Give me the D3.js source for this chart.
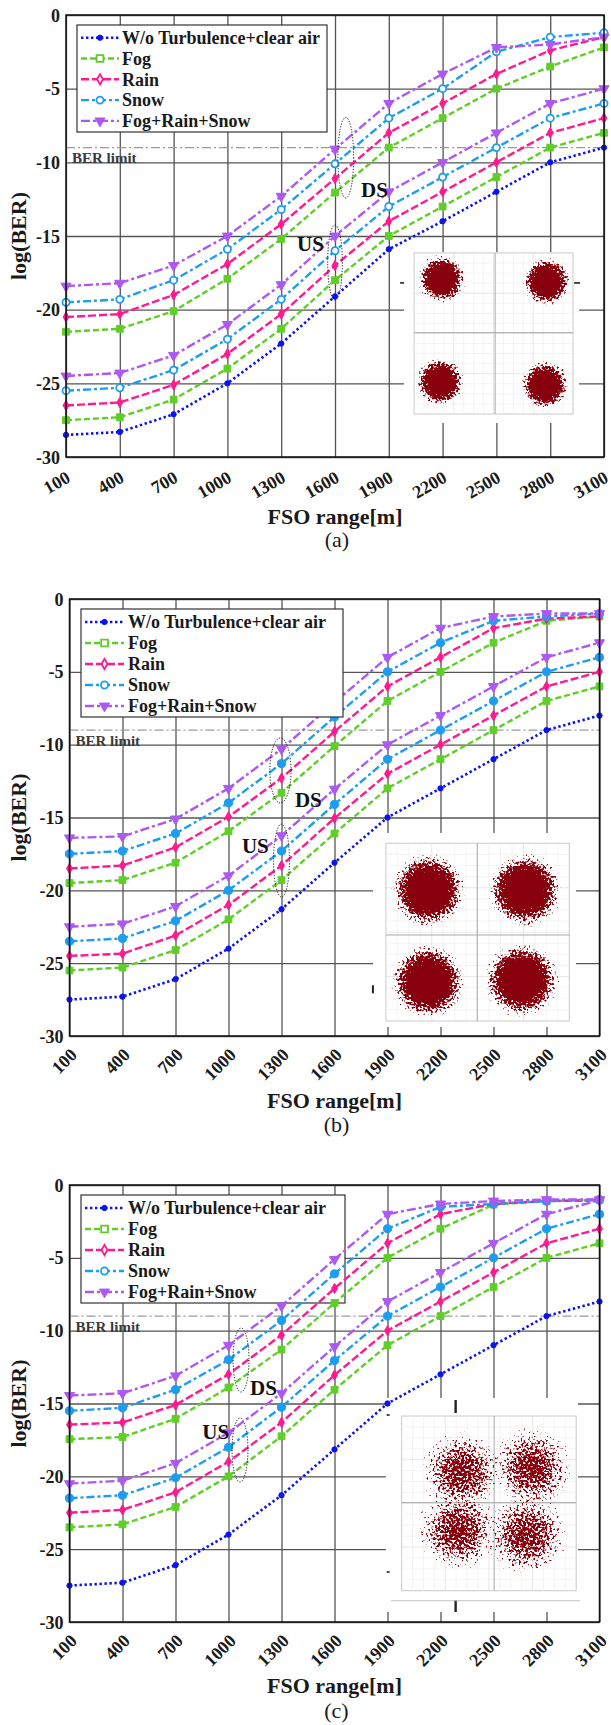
<!DOCTYPE html>
<html>
<head>
<meta charset="utf-8">
<script src="https://cdn.jsdelivr.net/npm/d3@7"></script>
<style>
  body { margin: 0; background: #fff; }
  svg { display: block; }
  text { font-family: "Liberation Serif", "Times New Roman", serif; }
</style>
</head>
<body>
<div id="cont"></div>
<script>
// x categories and y ticks (same for all three panels)
var ranges = [100, 400, 700, 1000, 1300, 1600, 1900, 2200, 2500, 2800, 3100];
var yTicks = [0, -5, -10, -15, -20, -25, -30];
var seriesNames = ["W/o Turbulence+clear air", "Fog", "Rain", "Snow", "Fog+Rain+Snow"];
var berLimit = -9;

// panel (a)  US = lower bundle, DS = upper bundle
var aClear  = [-28.5, -28.3, -27.1, -25.0, -22.3, -19.1, -15.9, -14.0, -12.0, -10.0, -9.0];
var aFogUS  = [-27.5, -27.3, -26.1, -24.0, -21.3, -18.0, -15.0, -13.0, -11.0, -9.0, -8.0];
var aRainUS = [-26.5, -26.3, -25.1, -23.0, -20.3, -17.0, -14.0, -12.0, -10.0, -8.0, -7.0];
var aSnowUS = [-25.5, -25.3, -24.1, -22.0, -19.3, -16.0, -13.0, -11.0, -9.0, -7.0, -6.0];
var aMixUS  = [-24.5, -24.3, -23.1, -21.0, -18.3, -15.0, -12.0, -10.0, -8.0, -6.0, -5.0];
var aFogDS  = [-21.5, -21.3, -20.1, -17.9, -15.2, -12.05, -9.0, -7.0, -5.0, -3.5, -2.2];
var aRainDS = [-20.5, -20.3, -19.0, -16.9, -14.2, -11.1, -8.0, -6.0, -4.0, -2.4, -1.5];
var aSnowDS = [-19.5, -19.3, -18.0, -15.9, -13.2, -10.1, -7.0, -5.0, -2.5, -1.5, -1.2];
var aMixDS  = [-18.4, -18.2, -17.0, -15.0, -12.3, -9.1, -6.0, -4.0, -2.2, -2.0, -1.5];

// panel (b)
var bClear  = [-27.5, -27.3, -26.1, -24.0, -21.3, -18.1, -15.0, -13.0, -11.0, -9.0, -8.0];
var bFogUS  = [-25.5, -25.3, -24.1, -22.0, -19.3, -16.1, -13.0, -11.0, -9.0, -7.0, -6.0];
var bRainUS = [-24.5, -24.35, -23.1, -21.0, -18.3, -15.05, -12.0, -10.0, -8.0, -6.0, -5.0];
var bSnowUS = [-23.5, -23.3, -22.1, -20.0, -17.3, -14.1, -11.0, -9.0, -7.0, -5.0, -4.0];
var bMixUS  = [-22.5, -22.3, -21.1, -19.0, -16.25, -13.05, -10.0, -8.0, -6.0, -4.0, -3.0];
var bFogDS  = [-19.5, -19.3, -18.1, -15.95, -13.3, -10.1, -7.0, -5.0, -3.0, -1.5, -1.2];
var bRainDS = [-18.5, -18.3, -17.05, -14.95, -12.3, -9.1, -6.0, -4.0, -2.0, -1.35, -1.2];
var bSnowDS = [-17.5, -17.3, -16.1, -14.0, -11.3, -8.1, -5.0, -3.0, -1.5, -1.2, -1.0];
var bMixDS  = [-16.4, -16.3, -15.1, -13.0, -10.3, -7.1, -4.0, -2.0, -1.2, -1.0, -1.0];

// panel (c)
var cClear  = [-27.5, -27.3, -26.1, -24.0, -21.3, -18.15, -15.0, -13.0, -11.0, -9.0, -8.0];
var cFogUS  = [-23.5, -23.3, -22.1, -20.0, -17.25, -14.05, -11.0, -9.0, -7.0, -5.0, -4.0];
var cRainUS = [-22.5, -22.3, -21.1, -19.0, -16.3, -13.05, -10.0, -8.0, -6.0, -4.0, -3.0];
var cSnowUS = [-21.5, -21.3, -20.1, -18.0, -15.25, -12.05, -9.0, -7.0, -5.0, -3.0, -2.0];
var cMixUS  = [-20.5, -20.3, -19.1, -17.0, -14.3, -11.1, -8.0, -6.0, -4.0, -2.0, -1.05];
var cFogDS  = [-17.45, -17.3, -16.05, -13.9, -11.3, -8.1, -5.0, -3.0, -1.35, -1.1, -1.05];
var cRainDS = [-16.45, -16.3, -15.1, -13.0, -10.3, -7.1, -4.0, -2.0, -1.3, -1.1, -1.05];
var cSnowDS = [-15.5, -15.3, -14.05, -12.0, -9.3, -6.1, -3.0, -1.5, -1.3, -1.1, -1.0];
var cMixDS  = [-14.45, -14.3, -13.1, -11.0, -8.3, -5.1, -2.0, -1.3, -1.1, -1.0, -1.0];

// line styles, index = series
var styles = [
  { color: "#0b12f2", dash: "2.4,2.6", width: 2.6, marker: "dot" },
  { color: "#5fcf27", dash: "6,3",     width: 2.4, marker: "square" },
  { color: "#ff1a8f", dash: "8,3",     width: 2.4, marker: "diamond" },
  { color: "#1d9df2", dash: "8,3,3,3", width: 2.4, marker: "circle" },
  { color: "#ad58f2", dash: "9,3,3,3", width: 2.4, marker: "triangle" }
];

var panels = [
  {
    caption: "(a)", top: 15, bottom: 457, left: 66, right: 604,
    rot: -30, labDx: 5, labDy: 24, titleY: 524, capY: 547,
    us: [aClear, aFogUS, aRainUS, aSnowUS, aMixUS],
    ds: [aFogDS, aRainDS, aSnowDS, aMixDS],
    hollowCircle: true, legendOnTop: true,
    legend: { x: 77, y: 25, w: 250, h: 107, row: 20.8, first: 12.7, lx0: 81, lx1: 119, tx: 122 },
    ellipses: [ { x: 1660, y0: -6.95, y1: -12.42, hw: 44 }, { x: 1600, y0: -14.25, y1: -19.34, hw: 41 } ],
    notes: [ { t: "DS", x: 1745, y: -12.35 }, { t: "US", x: 1388, y: -16.0 } ],
    inset: { box: [1985, 2961, -16.09, -27.69], frame: [2041, 2927, -16.15, -27.08],
             cross: [0.51, 0.495], r: 0.155, sparse: false,
             clusters: [[0.174, 0.161], [0.835, 0.178], [0.164, 0.80], [0.824, 0.82]],
             marks: [[-14, 30, -10, 30, 1.6], [160, 30, 166, 30, 1.6]] }
  },
  {
    caption: "(b)", top: 599, bottom: 1036, left: 69.5, right: 599.5,
    rot: -45, labDx: 8, labDy: 20, titleY: 1108, capY: 1132,
    us: [bClear, bFogUS, bRainUS, bSnowUS, bMixUS],
    ds: [bFogDS, bRainDS, bSnowDS, bMixDS],
    hollowCircle: false, legendOnTop: true,
    legend: { x: 81, y: 609, w: 262, h: 108, row: 21, first: 13, lx0: 85, lx1: 124, tx: 128 },
    ellipses: [ { x: 1294, y0: -9.54, y1: -14.0, hw: 60 }, { x: 1300, y0: -15.45, y1: -20.46, hw: 45 } ],
    notes: [ { t: "DS", x: 1376, y: -14.26 }, { t: "US", x: 1076, y: -17.46 } ],
    inset: { box: [1818, 2967, -16.06, -29.38], frame: [1891, 2929, -16.77, -28.97],
             cross: [0.498, 0.516], r: 0.205, sparse: false,
             clusters: [[0.231, 0.263], [0.758, 0.263], [0.230, 0.779], [0.740, 0.769]],
             marks: [[-13, 142, -13, 150, 2]] }
  },
  {
    caption: "(c)", top: 1185, bottom: 1622, left: 69.5, right: 599.5,
    rot: -45, labDx: 8, labDy: 20, titleY: 1693, capY: 1718,
    us: [cClear, cFogUS, cRainUS, cSnowUS, cMixUS],
    ds: [cFogDS, cRainDS, cSnowDS, cMixDS],
    hollowCircle: false, legendOnTop: false,
    legend: { x: 81, y: 1195, w: 264, h: 108, row: 21, first: 13, lx0: 85, lx1: 124, tx: 128 },
    ellipses: [ { x: 1071, y0: -9.82, y1: -14.21, hw: 45 }, { x: 1065, y0: -16.0, y1: -20.39, hw: 45 } ],
    notes: [ { t: "DS", x: 1122, y: -14.42 }, { t: "US", x: 852, y: -17.46 } ],
    inset: { box: [1891, 2978, -14.62, -29.31], frame: [1980, 2968, -15.86, -27.85],
             cross: [0.53, 0.496], r: 0.235, sparse: true,
             clusters: [[0.344, 0.319], [0.746, 0.298], [0.323, 0.653], [0.717, 0.681]],
             marks: [[-15, -1, -12, -1, 1.6], [-15, 156, -12, 156, 1.6], [54, -16, 54, -3, 2.4], [54, 184, 54, 196, 2.4]],
             baseLine: [-10.7, 184.7, 178.3] }
  }
];

var svg = d3.select("#cont")
  .append("svg")
  .attr("width", 611)
  .attr("height", 1725);

svg.append("rect").attr("width", 611).attr("height", 1725).attr("fill", "#fff");

// gradients + speckle filter for the constellation blobs
var defs = svg.append("defs");
var g1 = defs.append("radialGradient").attr("id", "blob");
g1.append("stop").attr("offset", "0%").attr("stop-opacity", 1).attr("stop-color", "#000");
g1.append("stop").attr("offset", "40%").attr("stop-opacity", 0.92).attr("stop-color", "#000");
g1.append("stop").attr("offset", "100%").attr("stop-opacity", 0.2).attr("stop-color", "#000");
var g2 = defs.append("radialGradient").attr("id", "blobSparse");
g2.append("stop").attr("offset", "0%").attr("stop-opacity", 0.66).attr("stop-color", "#000");
g2.append("stop").attr("offset", "45%").attr("stop-opacity", 0.52).attr("stop-color", "#000");
g2.append("stop").attr("offset", "100%").attr("stop-opacity", 0.22).attr("stop-color", "#000");

// alpha + noise, thresholded -> speckled cluster whose density falls off outward
var f = defs.append("filter").attr("id", "speck")
  .attr("x", "-5%").attr("y", "-5%").attr("width", "110%").attr("height", "110%");
f.append("feTurbulence").attr("type", "fractalNoise").attr("baseFrequency", 0.42)
  .attr("numOctaves", 2).attr("seed", 7).attr("result", "n");
f.append("feColorMatrix").attr("in", "n").attr("type", "matrix")
  .attr("values", "0 0 0 0 0  0 0 0 0 0  0 0 0 0 0  1 0 0 0 0").attr("result", "na");
f.append("feComposite").attr("in", "SourceAlpha").attr("in2", "na").attr("operator", "arithmetic")
  .attr("k1", 0).attr("k2", 1).attr("k3", 1).attr("k4", -0.92).attr("result", "sum");
var ct = f.append("feComponentTransfer").attr("in", "sum").attr("result", "thr");
ct.append("feFuncA").attr("type", "linear").attr("slope", 9).attr("intercept", -0.2);
f.append("feFlood").attr("flood-color", "#880008").attr("result", "col");
f.append("feComposite").attr("in", "col").attr("in2", "thr").attr("operator", "in");

function markerPath(type, hollowCircle) {
  if (type == "dot") return d3.symbol(d3.symbolCircle, 22)();
  if (type == "square") return d3.symbol(d3.symbolSquare, 46)();
  if (type == "diamond") return d3.symbol(d3.symbolDiamond, 30)();
  if (type == "circle") return d3.symbol(d3.symbolCircle, hollowCircle ? 40 : 52)();
  return d3.symbol(d3.symbolTriangle, 44)();
}

function drawMarkers(g, pts, st, hollow, hollowCircle) {
  g.selectAll(null)
    .data(pts)
    .enter()
    .append("path")
    .attr("d", markerPath(st.marker, hollowCircle))
    .attr("transform", function(d) {
      return "translate(" + d[0] + "," + d[1] + ")" + (st.marker == "triangle" ? " rotate(180)" : "");
    })
    .attr("fill", hollow ? "#fff" : st.color)
    .attr("stroke", st.color)
    .attr("stroke-width", hollow ? 1.8 : 1);
}

panels.forEach(function(p) {
  var x = d3.scaleLinear().domain([100, 3100]).range([p.left, p.right]);
  var y = d3.scaleLinear().domain([0, -30]).range([p.top, p.bottom]);
  var W = p.right - p.left, H = p.bottom - p.top;
  var g = svg.append("g");

  // grid + tick labels via axes
  var gx = g.append("g")
    .attr("transform", "translate(0," + p.bottom + ")")
    .call(d3.axisBottom(x).tickValues(ranges).tickSize(-H).tickFormat(function(d) { return String(d); }));
  gx.select(".domain").remove();
  gx.selectAll(".tick line").attr("stroke", "#555").attr("stroke-width", 1.3);
  gx.selectAll(".tick text")
    .attr("x", 0).attr("y", 0).attr("dy", 0)
    .attr("text-anchor", "end")
    .attr("transform", "translate(" + p.labDx + "," + p.labDy + ") rotate(" + p.rot + ")")
    .attr("fill", "#1a1a1a")
    .style("font-family", "'Liberation Serif', serif")
    .style("font-size", "18px").style("font-weight", "bold");

  var gy = g.append("g")
    .attr("transform", "translate(" + p.left + ",0)")
    .call(d3.axisLeft(y).tickValues(yTicks).tickSize(-W).tickPadding(6).tickFormat(function(d) { return String(d); }));
  gy.select(".domain").remove();
  gy.selectAll(".tick line").attr("stroke", "#555").attr("stroke-width", 1.3);
  gy.selectAll(".tick text")
    .attr("dy", "0.34em")
    .attr("fill", "#1a1a1a")
    .style("font-family", "'Liberation Serif', serif")
    .style("font-size", "18px").style("font-weight", "bold");

  // constellation inset (pasted picture)
  var ins = p.inset;
  g.append("rect")
    .attr("x", x(ins.box[0])).attr("y", y(ins.box[2]))
    .attr("width", x(ins.box[1]) - x(ins.box[0])).attr("height", y(ins.box[3]) - y(ins.box[2]))
    .attr("fill", "#fff");
  var fx0 = x(ins.frame[0]), fx1 = x(ins.frame[1]), fy0 = y(ins.frame[2]), fy1 = y(ins.frame[3]);
  var fw = fx1 - fx0, fh = fy1 - fy0;
  var ig = g.append("g");
  ig.append("rect").attr("x", fx0).attr("y", fy0).attr("width", fw).attr("height", fh)
    .attr("fill", "#fff").attr("stroke", "#c9c9c9").attr("stroke-width", 1);
  var steps = d3.range(1, 16);
  ig.selectAll(null).data(steps).enter().append("line")
    .attr("x1", function(d) { return fx0 + fw * d / 16; }).attr("x2", function(d) { return fx0 + fw * d / 16; })
    .attr("y1", fy0).attr("y2", fy1)
    .attr("stroke", function(d) { return d % 4 == 0 ? "#dcdcdc" : "#efefef"; }).attr("stroke-width", 0.7);
  ig.selectAll(null).data(steps).enter().append("line")
    .attr("y1", function(d) { return fy0 + fh * d / 16; }).attr("y2", function(d) { return fy0 + fh * d / 16; })
    .attr("x1", fx0).attr("x2", fx1)
    .attr("stroke", function(d) { return d % 4 == 0 ? "#dcdcdc" : "#efefef"; }).attr("stroke-width", 0.7);
  ig.append("line").attr("x1", fx0 + fw * ins.cross[0]).attr("x2", fx0 + fw * ins.cross[0])
    .attr("y1", fy0).attr("y2", fy1).attr("stroke", "#a8a8a8").attr("stroke-width", 1);
  ig.append("line").attr("y1", fy0 + fh * ins.cross[1]).attr("y2", fy0 + fh * ins.cross[1])
    .attr("x1", fx0).attr("x2", fx1).attr("stroke", "#a8a8a8").attr("stroke-width", 1);
  ig.selectAll(null).data(ins.clusters).enter().append("circle")
    .attr("cx", function(d) { return fx0 + fw * d[0]; })
    .attr("cy", function(d) { return fy0 + fh * d[1]; })
    .attr("r", fw * ins.r)
    .attr("fill", ins.sparse ? "url(#blobSparse)" : "url(#blob)")
    .attr("filter", "url(#speck)");
  ins.marks.forEach(function(m) {
    ig.append("line")
      .attr("x1", fx0 + m[0]).attr("y1", fy0 + m[1]).attr("x2", fx0 + m[2]).attr("y2", fy0 + m[3])
      .attr("stroke", "#222").attr("stroke-width", m[4]);
  });
  if (ins.baseLine) {
    ig.append("line")
      .attr("x1", fx0 + ins.baseLine[0]).attr("x2", fx0 + ins.baseLine[2])
      .attr("y1", fy0 + ins.baseLine[1]).attr("y2", fy0 + ins.baseLine[1])
      .attr("stroke", "#c4c4c4").attr("stroke-width", 1);
  }

  // BER limit
  g.append("line")
    .attr("x1", p.left).attr("x2", p.right)
    .attr("y1", y(berLimit)).attr("y2", y(berLimit))
    .attr("stroke", "#9a9a9a").attr("stroke-width", 1.2)
    .attr("stroke-dasharray", "9,3,2,3");
  g.append("text")
    .attr("x", p.left + 6).attr("y", y(-10) + 1)
    .attr("fill", "#3a3a3a")
    .style("font-size", "15px").style("font-weight", "bold")
    .text("BER limit");

  var line = d3.line()
    .x(function(d, i) { return x(ranges[i]); })
    .y(function(d) { return y(d); });

  var lg = g.append("g");
  var legendG = g.append("g");
  if (!p.legendOnTop) lg.raise();

  // upper bundle (Fog, Rain, Snow, Fog+Rain+Snow), then lower bundle incl. clear air
  var bundles = [];
  p.ds.forEach(function(vals, k) { bundles.push({ vals: vals, st: styles[k + 1] }); });
  p.us.forEach(function(vals, k) { bundles.push({ vals: vals, st: styles[k] }); });

  bundles.forEach(function(b) {
    lg.append("path")
      .attr("d", line(b.vals))
      .attr("fill", "none")
      .attr("stroke", b.st.color)
      .attr("stroke-width", b.st.width)
      .attr("stroke-dasharray", b.st.dash);
    var pts = b.vals.map(function(v, i) { return [x(ranges[i]), y(v)]; });
    var hollow = p.hollowCircle && b.st.marker == "circle";
    drawMarkers(lg, pts, b.st, hollow, p.hollowCircle);
  });

  // dotted ellipses + DS / US labels
  p.ellipses.forEach(function(e) {
    g.append("ellipse")
      .attr("cx", x(e.x)).attr("cy", (y(e.y0) + y(e.y1)) / 2)
      .attr("rx", x(e.x + e.hw) - x(e.x)).attr("ry", (y(e.y1) - y(e.y0)) / 2)
      .attr("fill", "none").attr("stroke", "#111").attr("stroke-width", 1)
      .attr("stroke-dasharray", "1.2,1.6");
  });
  p.notes.forEach(function(n) {
    g.append("text")
      .attr("x", x(n.x)).attr("y", y(n.y))
      .attr("fill", "#111")
      .style("font-size", "21px").style("font-weight", "bold")
      .text(n.t);
  });

  // legend
  var L = p.legend;
  legendG.append("rect")
    .attr("x", L.x).attr("y", L.y).attr("width", L.w).attr("height", L.h)
    .attr("fill", "#fff").attr("stroke", "#333").attr("stroke-width", 1.2);
  seriesNames.forEach(function(name, i) {
    var st = styles[i];
    var ry = L.y + L.first + i * L.row;
    legendG.append("line")
      .attr("x1", L.lx0).attr("x2", L.lx1).attr("y1", ry).attr("y2", ry)
      .attr("stroke", st.color).attr("stroke-width", st.width)
      .attr("stroke-dasharray", st.dash);
    var hollow = st.marker == "square" || st.marker == "diamond" || st.marker == "circle";
    drawMarkers(legendG, [[(L.lx0 + L.lx1) / 2, ry]], st, hollow, true);
    legendG.append("text")
      .attr("x", L.tx).attr("y", ry).attr("dy", "0.35em")
      .attr("fill", "#1a1a1a")
      .style("font-size", "18px").style("font-weight", "bold")
      .text(name);
  });

  // axes box
  g.append("rect")
    .attr("x", p.left).attr("y", p.top).attr("width", W).attr("height", H)
    .attr("fill", "none").attr("stroke", "#111").attr("stroke-width", 1.5);

  // titles
  g.append("text")
    .attr("x", (p.left + p.right) / 2).attr("y", p.titleY)
    .attr("text-anchor", "middle").attr("fill", "#1a1a1a")
    .style("font-size", "22px").style("font-weight", "bold")
    .text("FSO range[m]");
  g.append("text")
    .attr("transform", "translate(26," + ((p.top + p.bottom) / 2) + ") rotate(-90)")
    .attr("text-anchor", "middle").attr("fill", "#1a1a1a")
    .style("font-size", "22px").style("font-weight", "bold")
    .text("log(BER)");
  g.append("text")
    .attr("x", (p.left + p.right) / 2 + 2).attr("y", p.capY)
    .attr("text-anchor", "middle").attr("fill", "#1a1a1a")
    .style("font-size", "22px")
    .text(p.caption);
});
</script>
</body>
</html>
